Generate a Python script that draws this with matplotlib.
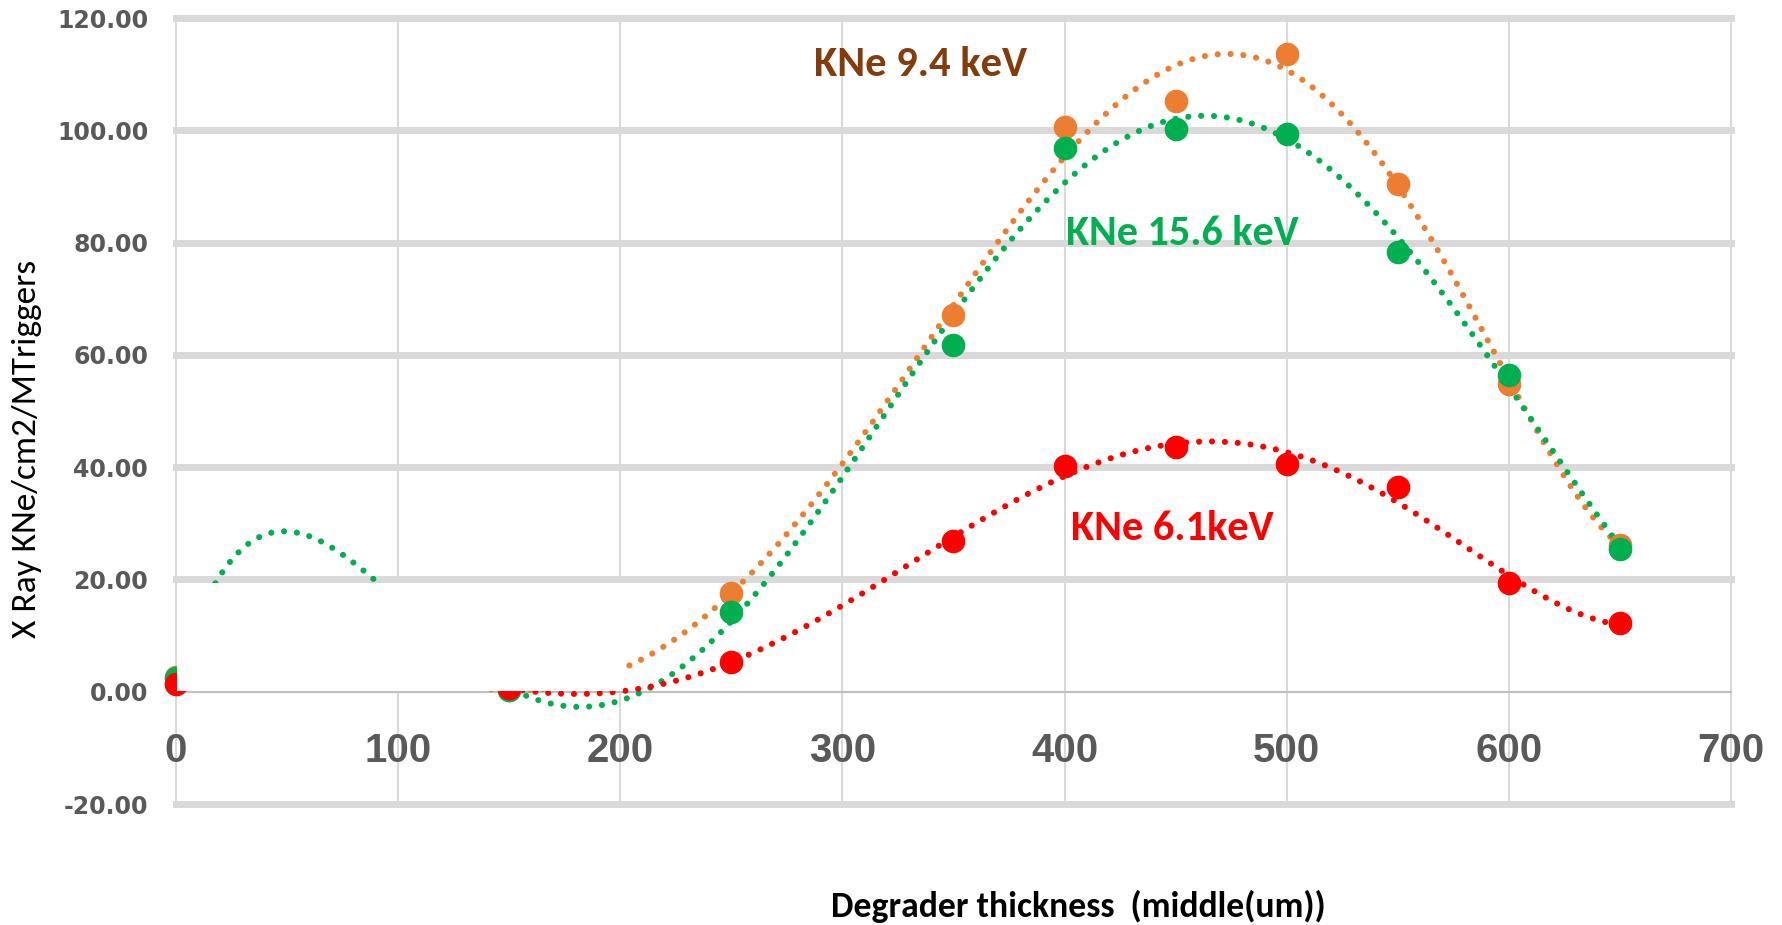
import numpy as np
import matplotlib
matplotlib.use("Agg")
import matplotlib.pyplot as plt
from matplotlib import font_manager
from matplotlib.patches import Rectangle
from matplotlib.transforms import ScaledTranslation

# data
thickness = [0, 150, 250, 350, 400, 450, 500, 550, 600, 650]
kne_94 = [2.6, 0.3, 17.6, 67.1, 100.6, 105.3, 113.6, 90.5, 54.8, 26.2]
kne_156 = [2.4, 0.3, 14.2, 61.7, 96.8, 100.2, 99.4, 78.3, 56.4, 25.4]
kne_61 = [1.4, 0.6, 5.3, 26.8, 40.2, 43.6, 40.6, 36.5, 19.3, 12.2]

yticks = [-20, 0, 20, 40, 60, 80, 100, 120]
xticks = [0, 100, 200, 300, 400, 500, 600, 700]

names = {f.name for f in font_manager.fontManager.ttflist}
calib = "Liberation Sans"
for cand in ["Carlito", "Liberation Sans Narrow", "Roboto Condensed", "Open Sans Condensed", "PT Sans Narrow"]:
    if cand in names:
        calib = cand
        break

W, H = 1783, 925
fig = plt.figure(figsize=(W / 100, H / 100), dpi=100)
ax = fig.add_axes([176 / W, (H - 804) / H, (1731 - 176) / W, (804 - 18) / H])
ax.set_xlim(0, 700)
ax.set_ylim(-20, 120)
for s in ax.spines.values():
    s.set_visible(False)

grid_c = "#d9d9d9"
for y in yticks:
    if y == 0:
        ax.axhline(0, color="#bfbfbf", lw=1.6, zorder=1, clip_on=False)
    else:
        ax.axhline(y, color=grid_c, lw=5, zorder=0, clip_on=False)
for x in xticks:
    ax.axvline(x, color=grid_c, lw=1.5, zorder=0, clip_on=False)

series = [(kne_94, "#ed7d31"), (kne_156, "#00b050"), (kne_61, "#ff0000")]
xs = np.linspace(0, 650, 500)
for y, c in series:
    p = np.polyfit(thickness, y, 6)  # poly trendline, order 6
    ax.plot(xs, np.polyval(p, xs), color=c, lw=4.4, ls=(0, (0.01, 2.1)),
            dash_capstyle="round", zorder=2)
for y, c in series:
    ax.plot(thickness, y, "o", color=c, ms=16, zorder=3, clip_on=False)

# white box hiding the low-thickness region
ax.add_patch(Rectangle((0.6, 0.15), 200.5, 19.2, facecolor="white",
                       edgecolor="none", zorder=5))

ax.set_xticks([])
ax.set_yticks(yticks)
ax.tick_params(length=0)
ax.set_yticklabels([f"{v:.2f}" for v in yticks], fontsize=17, fontweight="bold",
                   color="#595959", family="DejaVu Sans")
ax.tick_params(axis="y", pad=20)
shift = ax.transData + ScaledTranslation(0, -0.40, fig.dpi_scale_trans)
for v in xticks:
    ax.text(v, 0, str(v), transform=shift, ha="center", va="top",
            fontsize=29, fontweight="bold", color="#595959", family="Liberation Sans")

fitted = []
fitted.append((ax.text(335, 111.8, "KNe 9.4 keV", color="#843c0c", fontsize=27, fontweight="bold",
                       family=calib, ha="center", va="center", zorder=6), 213, "w"))
fitted.append((ax.text(453, 81.7, "KNe 15.6 keV", color="#00b050", fontsize=27, fontweight="bold",
                       family=calib, ha="center", va="center", zorder=6), 233, "w"))
fitted.append((ax.text(448.5, 29, "KNe 6.1keV", color="#ff0000", fontsize=27, fontweight="bold",
                       family=calib, ha="center", va="center", zorder=6), 203, "w"))
fitted.append((fig.text(1078 / W, 1 - 906 / H, "Degrader thickness  (middle(um))", fontsize=23,
                        fontweight="bold", family=calib, ha="center", va="center"), 497, "w"))
fitted.append((fig.text(27 / W, 1 - 449 / H, "X Ray KNe/cm2/MTriggers", fontsize=23,
                        family=calib, rotation=90, ha="center", va="center"), 380, "h"))

# scale each title so its extent matches the reference
fig.canvas.draw()
r = fig.canvas.get_renderer()
for t, target, dim in fitted:
    bb = t.get_window_extent(r)
    size = bb.width if dim == "w" else bb.height
    t.set_fontsize(t.get_fontsize() * target / size)

fig.savefig("out.png", dpi=100, facecolor="white")
